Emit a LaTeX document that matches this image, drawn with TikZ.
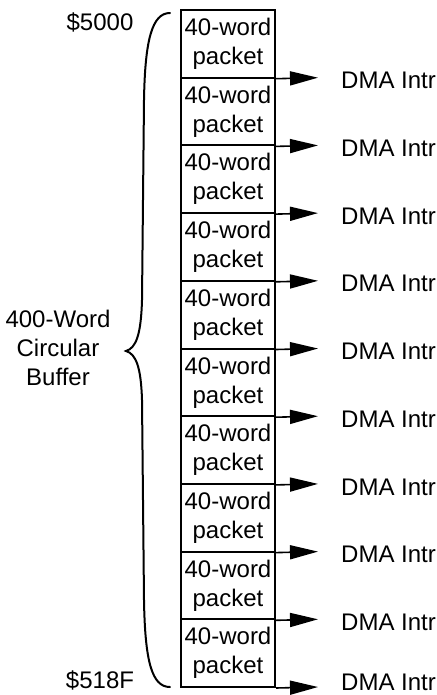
\documentclass[tikz,border=0pt]{standalone}
\usepackage{fontspec}
\setmainfont{Liberation Sans}
\usetikzlibrary{arrows.meta}
\begin{document}
\begin{tikzpicture}[x=1bp,y=-1bp,
  every node/.style={font=\fontsize{24bp}{29bp}\selectfont, inner sep=0pt},
  packet/.style={draw, line width=2bp, minimum width=94bp, minimum height=67.7bp, align=center},
  arr/.style={line width=1.6bp, -{Triangle[length=28bp,width=14bp]}},
  brace/.style={line width=2bp, line cap=round}]
\useasboundingbox (0,0) rectangle (437,695);
\foreach \i in {0,...,9}{
  \pgfmathsetmacro{\yc}{10+67.7*\i+33.85}
  \pgfmathsetmacro{\yb}{10+67.7*(\i+1)}
  \pgfmathsetmacro{\yl}{\i<9 ? \yb+3 : \yb-5}
  \node[packet] (b\i) at (228,\yc) {40-word\\packet};
  \coordinate (t\i) at (318,\yb);
  \node[anchor=west] (d\i) at (341,\yl) {DMA Intr};
  \draw[arr] (b\i.south east) -- (t\i);
}
\node (top) at (100,22) {\$5000};
\node (bot) at (100,680) {\$518F};
\node[align=center] (buf) at (58,348) {400-Word\\Circular\\Buffer};
\draw[brace] (170,13) .. controls (152,13) and (145,40) .. (144,100)
  -- (142,300) .. controls (141,335) and (136,348) .. (126,351)
  .. controls (136,354) and (141,367) .. (142,400)
  -- (144,600) .. controls (145,662) and (152,687) .. (170,687);
\end{tikzpicture}
\end{document}
